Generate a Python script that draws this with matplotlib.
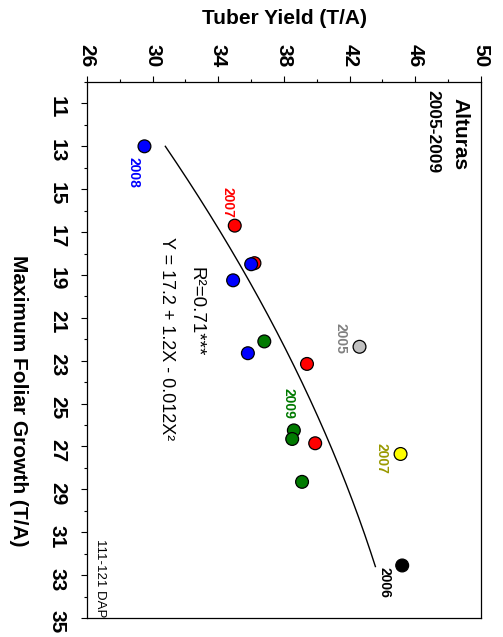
import matplotlib

matplotlib.use('Agg')
import matplotlib.pyplot as plt
import numpy as np
from matplotlib.ticker import MultipleLocator

plt.rcParams['font.family'] = ['Liberation Sans', 'DejaVu Sans']

# Данные: максимальный рост ботвы (T/A) и урожай клубней (T/A)
foliar_growth = [13.0, 16.7, 18.45, 18.5, 19.25, 22.1, 22.65, 23.15, 22.35,
                 26.25, 26.65, 26.85, 27.35, 28.65, 32.55]
tuber_yield = [29.5, 35.0, 36.2, 36.0, 34.9, 36.8, 35.8, 39.4, 42.6,
               38.6, 38.5, 39.9, 45.1, 39.1, 45.2]
point_colors = ['#0000ff', '#ff0000', '#ff0000', '#0000ff', '#0000ff', '#007a00',
                '#0000ff', '#ff0000', '#c0c0c0', '#007a00', '#007a00', '#ff0000',
                '#ffff00', '#007a00', '#000000']

# Подписи годов
year_labels = ['2008', '2007', '2005', '2009', '2007', '2006']
year_label_x = [28.86, 34.55, 41.47, 38.3, 43.93, 44.15]
year_label_y = [14.2, 15.6, 21.95, 24.99, 27.58, 33.34]
year_label_colors = ['#0000ff', '#ff0000', '#808080', '#007a00', '#999900', '#000000']

# Оси
yield_ticks = [26, 30, 34, 38, 42, 46, 50]
growth_ticks = [11, 13, 15, 17, 19, 21, 23, 25, 27, 29, 31, 33, 35]

# Регрессия Y = 17.2 + 1.2X - 0.012X^2
fit_b0, fit_b1, fit_b2 = 17.2, 1.2, -0.012
fit_range = (13.0, 32.6)

fig = plt.figure(figsize=(5.03, 6.37), dpi=100)
ax = fig.add_axes([87 / 503, 1 - 618 / 637, 394 / 503, 536 / 637])

xs = np.linspace(fit_range[0], fit_range[1], 200)
ax.plot(fit_b0 + fit_b1 * xs + fit_b2 * xs ** 2, xs, color='black', lw=1, zorder=2)

ax.scatter(tuber_yield, foliar_growth, s=85, c=point_colors,
           edgecolors='black', linewidths=0.9, zorder=3)

for lbl, lx, ly, lc in zip(year_labels, year_label_x, year_label_y, year_label_colors):
    ax.text(lx, ly, lbl, color=lc, fontsize=10, fontweight='bold',
            rotation=-90, ha='center', va='center')

ax.text(32.61, 20.69, 'R²=0.71***', fontsize=13.5, rotation=-90, ha='center', va='center')
ax.text(30.84, 21.97, 'Y = 17.2 + 1.2X - 0.012X²', fontsize=13, rotation=-90,
        ha='center', va='center')
ax.text(48.75, 12.43, 'Alturas', fontsize=15, fontweight='bold', rotation=-90,
        ha='center', va='center')
ax.text(47.07, 12.29, '2005-2009', fontsize=12.5, fontweight='bold', rotation=-90,
        ha='center', va='center')
ax.text(26.79, 33.16, '111-121 DAP', fontsize=9.5, rotation=-90, ha='center', va='center')

ax.set_xlim(26, 50)
ax.set_ylim(35, 10)
ax.set_xticks(yield_ticks)
ax.xaxis.set_minor_locator(MultipleLocator(2))
ax.set_yticks(growth_ticks)
ax.yaxis.set_minor_locator(MultipleLocator(1))
ax.xaxis.tick_top()
ax.tick_params(which='major', direction='out', length=4, width=0.8, labelsize=15)
ax.tick_params(which='minor', direction='out', length=2.2, width=0.8)
ax.tick_params(axis='x', pad=6.5)
ax.tick_params(axis='y', pad=10.5)
for t in ax.get_xticklabels() + ax.get_yticklabels():
    t.set_rotation(-90)
    t.set_fontweight('bold')
for sp in ax.spines.values():
    sp.set_linewidth(0.9)

fig.text(284 / 503, 1 - 18.5 / 637, 'Tuber Yield (T/A)', fontsize=15, fontweight='bold',
         ha='center', va='center')
fig.text(18 / 503, 1 - 401 / 637, 'Maximum Foliar Growth (T/A)', fontsize=15,
         fontweight='bold', rotation=-90, ha='center', va='center')

fig.savefig('out.png', dpi=100)
